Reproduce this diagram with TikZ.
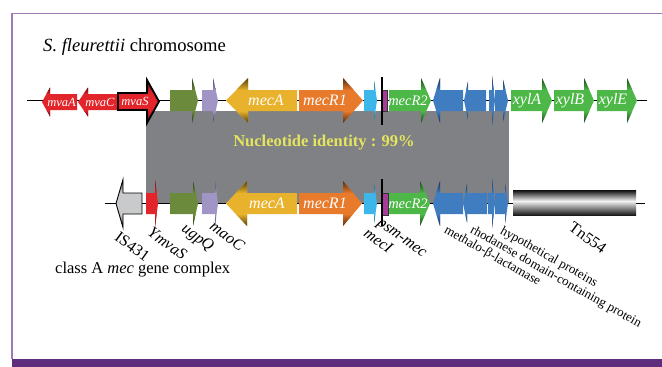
\documentclass[tikz,border=0pt]{standalone}
\usepackage{fontspec}
\setmainfont{Liberation Serif}
\usepackage{tikz}

\definecolor{mvared}{HTML}{E2252B}
\definecolor{olivegene}{HTML}{6B8A3C}
\definecolor{lavgene}{HTML}{A095C4}
\definecolor{mecAcol}{HTML}{E9B22C}
\definecolor{mecRcol}{HTML}{E87A2C}
\definecolor{mecIcol}{HTML}{3DB7E9}
\definecolor{psmcol}{HTML}{A63C98}
\definecolor{greengene}{HTML}{4DB848}
\definecolor{bluegene}{HTML}{3F7DC0}
\definecolor{isgray}{HTML}{C9CACB}
\definecolor{idgray}{HTML}{808184}
\definecolor{idyellow}{HTML}{E4E45E}
\definecolor{framelight}{HTML}{9C7BB6}
\definecolor{framedark}{HTML}{5E2E7C}

% [draw options]{colour}{tail x}{head base x}{tip x}{axis y}
\newcommand{\gene}[6][]{%
  \fill[#2] (#3,#6-\gbody) -- (#4,#6-\gbody) -- (#4,#6-\ghead) -- (#5,#6)
    -- (#4,#6+\ghead) -- (#4,#6+\gbody) -- (#3,#6+\gbody) -- cycle;
  \pgfmathsetmacro\xcut{#4+(#5-#4)*(\ghead-\gbody)/\ghead}%
  \shade[top color=#2!35!black,bottom color=#2] (#4,#6-\ghead) -- (\xcut,#6-\gbody) -- (#4,#6-\gbody) -- cycle;
  \shade[top color=#2,bottom color=#2!35!black] (#4,#6+\gbody) -- (\xcut,#6+\gbody) -- (#4,#6+\ghead) -- cycle;
  \draw[draw=none,#1] (#3,#6-\gbody) -- (#4,#6-\gbody) -- (#4,#6-\ghead) -- (#5,#6)
    -- (#4,#6+\ghead) -- (#4,#6+\gbody) -- (#3,#6+\gbody) -- cycle;
}

\begin{document}
\begin{tikzpicture}[x=1pt,y=-1pt,
    genelab/.style={text=white,inner sep=0pt,font=\itshape\fontsize{16}{16}\selectfont},
    redlab/.style={text=white,inner sep=0pt,font=\itshape\fontsize{12.5}{12.5}\selectfont},
    maplab/.style={anchor=north west,inner sep=0pt,rotate=-36,font=\fontsize{16}{16}\selectfont},
    protlab/.style={anchor=north west,inner sep=0pt,rotate=-29.5,font=\fontsize{13}{13}\selectfont}]
    \useasboundingbox (0,0) rectangle (662,367);
    \fill[framedark] (12,358.5) rectangle (662,367);
    \draw[framelight,line width=1.5pt] (12,358.5) -- (12,13.5) -- (662,13.5);

    \node[anchor=west,inner sep=0pt,font=\fontsize{18.6}{18.6}\selectfont] (title) at (43,47)
        {\textit{S. fleurettii} chromosome};
    \node[anchor=west,inner sep=0pt,font=\fontsize{16.5}{16.5}\selectfont] (complex) at (55,270)
        {class A \textit{mec} gene complex};

    \fill[idgray] (146,111) rectangle (509,203.5);
    \node[text=idyellow,font=\bfseries\fontsize{16.5}{16.5}\selectfont] (ident) at (324,143)
        {Nucleotide identity : 99\%};

    \draw[line width=1.2pt] (27,100.5) -- (647,100.5);
    \draw[line width=1.2pt] (105,203.5) -- (645,203.5);

    % S. fleurettii chromosome
    \def\gbody{8}\def\ghead{14.5}
    \gene{mvared}{77}{50}{42}{102}
    \gene{mvared}{117}{88}{78}{102}
    \def\gbody{8.5}\def\ghead{21.5}
    \gene[draw=black,line width=1.8pt]{mvared}{118}{147}{159}{101.5}
    \def\gbody{10.5}\def\ghead{22.5}
    \gene{olivegene}{170}{192}{198}{100.5}
    \gene{lavgene}{202}{213}{218}{100.5}
    \gene{mecAcol}{297}{248}{226}{100.5}
    \gene{mecRcol}{299}{343}{363}{100.5}
    \gene{greengene}{389}{421}{431}{100.5}
    \gene{bluegene}{463}{440}{433}{100.5}
    \gene{greengene}{511}{542}{552}{100.5}
    \gene{greengene}{554}{584}{594}{100.5}
    \gene{greengene}{597}{627}{637}{100.5}
    \def\ghead{20}
    \gene{mecIcol}{364}{374}{377}{100.5}
    \def\ghead{19}
    \gene{bluegene}{486}{468}{464}{100.5}
    \def\ghead{25}
    \gene{bluegene}{489}{492}{495}{100.5}
    \def\ghead{21}
    \gene{bluegene}{495}{503}{508}{100.5}
    \filldraw[fill=psmcol,draw=black!80,line width=0.8pt] (381,90) rectangle (387.5,111);
    \draw[line width=1.3pt] (382,77) -- (382,125);

    \node[redlab] (mvaA) at (61.5,102) {mvaA};
    \node[redlab] (mvaC) at (100,102) {mvaC};
    \node[redlab] (mvaS) at (135,101.5) {mvaS};
    \node[genelab] (mecAtop) at (266,100.5) {mecA};
    \node[genelab] (mecRtop) at (325,100.5) {mecR1};
    \node[genelab,font=\itshape\fontsize{14.5}{14.5}\selectfont] (mecRtwotop) at (408,100.5) {mecR2};
    \node[genelab] (xylA) at (527,100.5) {xylA};
    \node[genelab] (xylB) at (570,100.5) {xylB};
    \node[genelab] (xylE) at (613,100.5) {xylE};

    % class A mec gene complex
    \def\gbody{10.5}\def\ghead{24}
    \gene[draw=black,line width=0.9pt]{isgray}{142}{123}{116}{203.5}
    \gene{mvared}{146}{155}{158}{203.5}
    \def\ghead{22.5}
    \gene{olivegene}{170}{193}{198}{203.5}
    \gene{lavgene}{202}{215}{218}{203.5}
    \gene{mecAcol}{297}{247}{226}{203.5}
    \gene{mecRcol}{299}{343}{362}{203.5}
    \gene{greengene}{389}{420}{430}{203.5}
    \gene{bluegene}{463}{440}{433}{203.5}
    \def\ghead{20}
    \gene{mecIcol}{364}{374}{377}{203.5}
    \def\ghead{19}
    \gene{bluegene}{487}{467}{463}{203.5}
    \def\ghead{25}
    \gene{bluegene}{488}{492}{495}{203.5}
    \def\ghead{20}
    \gene{bluegene}{495}{505}{508}{203.5}
    \shade[top color=black!95,bottom color=gray!10] (513,190) rectangle (636,201);
    \shade[top color=gray!10,bottom color=black!90] (513,201) rectangle (636,215);
    \filldraw[fill=psmcol,draw=black!80,line width=0.8pt] (381,193) rectangle (388,215);
    \draw[line width=1.3pt] (382,179) -- (382,226);

    \node[genelab] (mecAbot) at (267,203.5) {mecA};
    \node[genelab] (mecRbot) at (325,203.5) {mecR1};
    \node[genelab,font=\itshape\fontsize{14.5}{14.5}\selectfont] (mecRtwobot) at (408,203.5) {mecR2};

    \node[maplab] (isl) at (120,231) {IS431};
    \node[maplab] (ymvas) at (153,226) {\textit{YmvaS}};
    \node[maplab] (ugpq) at (187,222) {\textit{ugpQ}};
    \node[maplab] (maoc) at (215,220) {\textit{maoC}};
    \node[maplab] (meci) at (369,227) {\textit{mecI}};
    \node[maplab] (psm) at (381,218) {\textit{psm-mec}};
    \node[protlab] (metallo) at (448,224) {methalo-β-lactamase};
    \node[protlab] (rhod) at (474,224) {rhodanese domain-containing protein};
    \node[protlab] (hypo) at (504,225) {hypothetical proteins};
    \node[maplab] (tn) at (574,221) {Tn554};
\end{tikzpicture}
\end{document}
